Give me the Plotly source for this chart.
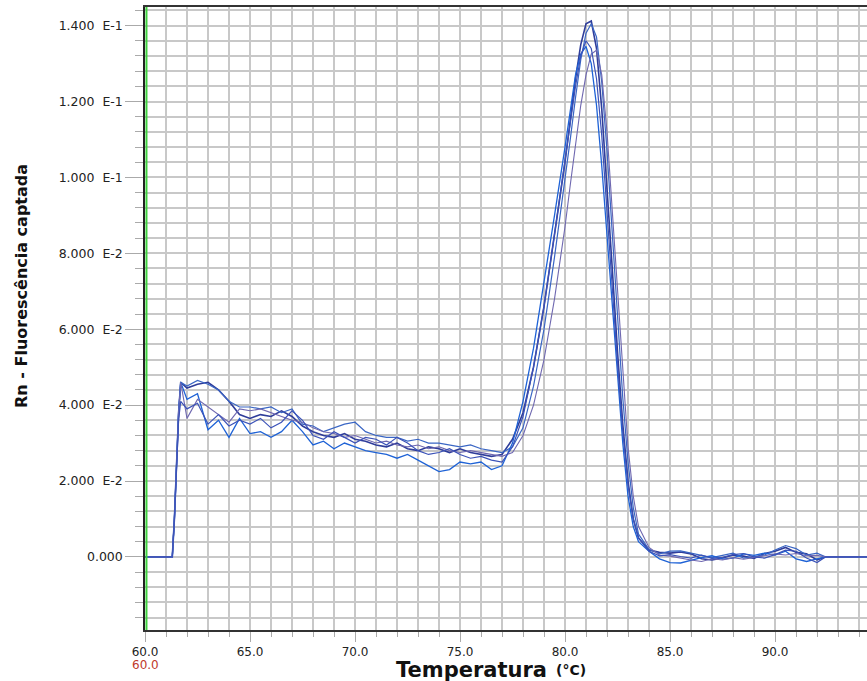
import plotly.graph_objects as go

# Temperature grid (°C)
temps = [60.0, 61.3, 61.4, 61.5, 61.6, 61.7,
         62.0, 62.5, 63.0, 63.5, 64.0, 64.5, 65.0, 65.5, 66.0, 66.5, 67.0, 67.5, 68.0, 68.5,
         69.0, 69.5, 70.0, 70.5, 71.0, 71.5, 72.0, 72.5, 73.0, 73.5, 74.0, 74.5, 75.0, 75.5,
         76.0, 76.5, 77.0,
         77.5, 78.0, 78.5, 79.0, 79.5, 80.0,
         80.25, 80.5, 80.75, 81.0, 81.25, 81.5, 81.75, 82.0, 82.25, 82.5, 82.75, 83.0, 83.25, 83.5,
         84.0, 84.5, 85.0, 85.5, 86.0, 86.5, 87.0, 87.5, 88.0, 88.5, 89.0, 89.5, 90.0, 90.5,
         91.0, 91.5, 92.0, 92.4, 94.4]

# Fluorescence (Rn) values, in units of 1e-3
curve1 = [0, 0, 10, 25, 38, 46,
          44.5, 45.5, 46, 44, 41, 37.5, 36.5, 37.5, 37, 38.5, 37, 34.5, 33, 32, 31.5, 32.5, 31, 30.5,
          29.5, 29, 30, 28.5, 28, 29, 28.5, 27.5, 28.5, 27.5, 27, 26.5, 27,
          31, 38, 50, 66, 85, 104,
          115, 126, 135, 140.5, 141.2, 134, 118, 98, 76, 54, 35, 20, 10, 5,
          1.8, 1.2, 1.0, 1.3, 0.8, -0.5, -0.8, -0.3, 0.5, 0.2, -0.4, 0.9, 1.5, 2.5, 1.2, 0.8, -0.8, 0, 0]
curve2 = [0, 0, 10, 25, 38, 46,
          45, 46.5, 45.5, 44, 41, 39.5, 39.5, 39, 39.5, 38, 39, 35, 34.5, 33, 34, 35, 35.5, 33,
          32, 31.5, 31.5, 30.5, 31, 30, 30, 29.5, 29, 29.5, 28.5, 28, 27.5,
          29, 34, 45, 60, 79, 99,
          110, 121, 131, 138, 140.5, 137, 125, 107, 85, 63, 42, 25, 13, 6,
          2, 0.8, 1.5, 1.6, 1.0, 0.3, -0.2, 0.4, 1.0, -0.3, 0.2, 0.5, 1.8, 3.0, 2.2, 0.5, 1.0, 0, 0]
curve3 = [0, 0, 10, 25, 38, 46,
          41.5, 43, 33.5, 36, 31.5, 36.5, 32.5, 33, 31.5, 33, 36, 33, 29.5, 30.5, 28.5, 30, 29, 28,
          27.5, 27, 26, 27, 25.5, 24, 22.5, 23, 25, 24.5, 25, 23, 24,
          30, 41, 55, 72, 90, 108,
          118, 127, 132.5, 134.5, 130, 119, 103, 85, 66, 47, 30, 16, 8, 4,
          1.5, -0.5, -1.5, -1.6, -0.8, -0.2, 0.3, -0.6, -0.3, 0.8, 0.4, 1.0, 0.5, 1.5, -0.5, -1.2, -0.5, 0, 0]
curve4 = [0, 0, 10, 25, 38, 46,
          36.5, 41.5, 39.5, 37.5, 35.5, 39, 38.5, 39, 38, 37, 36, 35.5, 34, 33, 32.5, 31.5, 32, 31,
          30, 30.5, 29.5, 29, 29.5, 28.5, 29, 28, 27.5, 28, 27.5, 27, 26.5,
          27.5, 32, 40, 52, 68, 87,
          98, 109, 119, 127, 132.5, 133.5, 127, 112, 91, 69, 47, 29, 16, 8,
          2.5, 0.5, 0.2, -0.4, -0.8, -1.2, -0.5, -0.8, -0.2, -0.6, -0.2, 0.3, 0.8, 0.5, 0.9, 0.3, 0.4, 0, 0]
curve5 = [0, 0, 10, 25, 36, 41,
          39, 40.5, 35, 37.5, 34.5, 36, 35, 36.5, 34, 35.5, 38.5, 36, 32, 31, 33, 31.5, 30, 31.5,
          31, 29.5, 31.5, 30, 28, 27, 27.5, 28.5, 27, 26, 26.5, 25.5, 25,
          29, 37, 50, 66, 85, 104,
          114, 124, 132, 136, 134, 126, 111, 92, 71, 51, 33, 19, 10, 5,
          1.5, 0.3, 0.6, 0.1, -0.3, 0.5, -0.4, -0.1, 0.6, 0.9, 0.0, -0.3, 0.6, 1.8, 1.5, -0.3, -1.5, 0, 0]

y_tickvals = [0.0, 0.02, 0.04, 0.06, 0.08, 0.10, 0.12, 0.14]
y_ticktext = ["0.000", "2.000  E-2", "4.000  E-2", "6.000  E-2", "8.000  E-2",
              "1.000  E-1", "1.200  E-1", "1.400  E-1"]
x_tickvals = [60, 65, 70, 75, 80, 85, 90]
x_ticktext = ["60.0", "65.0", "70.0", "75.0", "80.0", "85.0", "90.0"]

series = [curve1, curve2, curve3, curve4, curve5]
colors = ["#2f3d9a", "#3a66c4", "#1e62d6", "#6f68b0", "#3b52b8"]
widths = [1.6, 1.2, 1.3, 1.1, 1.2]

fig = go.Figure()
for vals, col, w in zip(series, colors, widths):
    fig.add_trace(go.Scatter(x=temps, y=[v / 1000 for v in vals], mode="lines",
                             line=dict(color=col, width=w), showlegend=False, hoverinfo="skip"))

grid_col = "#c8c8c8"
fig.update_layout(
    width=867, height=681,
    margin=dict(l=145, r=0, t=7, b=51),
    paper_bgcolor="white", plot_bgcolor="white",
    font=dict(family="DejaVu Sans", color="#222222"),
    xaxis=dict(range=[60, 94.38], tickvals=x_tickvals, ticktext=x_ticktext,
               ticks="outside", ticklen=10, tickcolor="#aaaaaa", tickwidth=1,
               showgrid=True, gridcolor=grid_col, gridwidth=1.5, zeroline=False,
               showline=True, linecolor="#333333", linewidth=1.5, mirror=True,
               tickfont=dict(family="DejaVu Sans", size=12, color="#222222"),
               minor=dict(dtick=1, tick0=60, showgrid=True, gridcolor=grid_col, gridwidth=1.5,
                          ticks="outside", ticklen=5, tickcolor="#aaaaaa")),
    yaxis=dict(range=[-0.01926, 0.1449], tickvals=y_tickvals, ticktext=y_ticktext,
               ticks="outside", ticklen=18, tickcolor="#aaaaaa", tickwidth=1,
               showgrid=True, gridcolor=grid_col, gridwidth=1.5, zeroline=False,
               showline=True, linecolor="#222222", linewidth=1.5,
               tickfont=dict(family="DejaVu Sans", size=12.5, color="#222222"),
               minor=dict(dtick=0.004, tick0=0, showgrid=True, gridcolor=grid_col, gridwidth=1.5,
                          ticks="outside", ticklen=8, tickcolor="#aaaaaa")),
)

# green marker line along the left axis
fig.add_shape(type="line", xref="x", yref="paper", x0=60.07, x1=60.07, y0=0, y1=1,
              line=dict(color="#3fd23f", width=2))

fig.add_annotation(text="<b>Rn - Fluorescência captada</b>", textangle=-90,
                   xref="paper", yref="paper", x=(21 - 145) / 722, y=(630 - 286) / 623,
                   xanchor="center", yanchor="middle", showarrow=False,
                   font=dict(family="DejaVu Sans", size=16, color="#111111"))
fig.add_annotation(text="<b>Temperatura</b>", xref="paper", yref="paper",
                   x=(471 - 145) / 722, y=(630 - 670) / 623, xanchor="center", yanchor="middle",
                   showarrow=False, font=dict(family="DejaVu Sans", size=21, color="#111111"))
fig.add_annotation(text="<b>(°C)</b>", xref="paper", yref="paper",
                   x=(571 - 145) / 722, y=(630 - 670) / 623, xanchor="center", yanchor="middle",
                   showarrow=False, font=dict(family="DejaVu Sans", size=14, color="#111111"))
fig.add_annotation(text="60.0", xref="paper", yref="paper",
                   x=0, y=(630 - 665) / 623, xanchor="center", yanchor="middle",
                   showarrow=False, font=dict(family="DejaVu Sans", size=12, color="#c0392b"))

fig.write_html("out.html")
